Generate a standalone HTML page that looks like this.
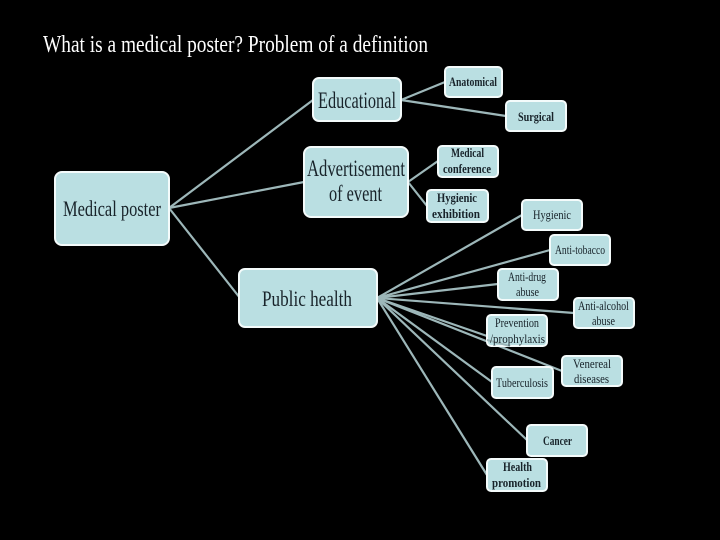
<!DOCTYPE html>
<html><head><meta charset="utf-8"><style>
html,body{margin:0;padding:0;background:#000;}
svg{display:block;}
text{font-family:"Liberation Serif",serif;fill:#18232a;}
.t{fill:#fff;}
.b{font-weight:bold;}
</style></head><body>
<svg width="720" height="540" viewBox="0 0 720 540" xmlns="http://www.w3.org/2000/svg">
<rect width="720" height="540" fill="#000"/>
<text class="t" x="43" y="52" font-size="24" textLength="385" lengthAdjust="spacingAndGlyphs">What is a medical poster? Problem of a definition</text>
<g stroke="#9db7b9" stroke-width="2.2" fill="none">
<line x1="169" y1="208" x2="313" y2="100"/>
<line x1="169" y1="208" x2="304" y2="182"/>
<line x1="169" y1="208" x2="240" y2="298"/>
<line x1="401" y1="100" x2="445" y2="82"/>
<line x1="401" y1="100" x2="506" y2="116"/>
<line x1="408" y1="182" x2="438" y2="161"/>
<line x1="408" y1="182" x2="427" y2="206"/>
<line x1="377" y1="298" x2="522" y2="215"/>
<line x1="377" y1="298" x2="550" y2="250"/>
<line x1="377" y1="298" x2="498" y2="284"/>
<line x1="377" y1="298" x2="574" y2="313"/>
<line x1="377" y1="298" x2="487" y2="336"/>
<line x1="377" y1="298" x2="562" y2="371"/>
<line x1="377" y1="298" x2="492" y2="382"/>
<line x1="377" y1="298" x2="527" y2="440"/>
<line x1="377" y1="298" x2="487" y2="475"/>
</g>
<g fill="#badfe2" stroke="#f4fbfb" stroke-width="2">
<rect x="55" y="172" width="114" height="73" rx="7"/>
<rect x="313" y="78" width="88" height="43" rx="6"/>
<rect x="304" y="147" width="104" height="70" rx="7"/>
<rect x="239" y="269" width="138" height="58" rx="6"/>
<rect x="445" y="67" width="57" height="30" rx="4"/>
<rect x="506" y="101" width="60" height="30" rx="4"/>
<rect x="438" y="146" width="60" height="31" rx="4"/>
<rect x="427" y="190" width="61" height="32" rx="4"/>
<rect x="522" y="200" width="60" height="30" rx="4"/>
<rect x="550" y="235" width="60" height="30" rx="4"/>
<rect x="498" y="269" width="60" height="31" rx="4"/>
<rect x="574" y="298" width="60" height="30" rx="4"/>
<rect x="487" y="315" width="60" height="31" rx="4"/>
<rect x="562" y="356" width="60" height="30" rx="4"/>
<rect x="492" y="367" width="61" height="31" rx="4"/>
<rect x="527" y="425" width="60" height="31" rx="4"/>
<rect x="487" y="459" width="60" height="32" rx="4"/>
</g>
<line x1="487" y1="340" x2="510" y2="346" stroke="#9db7b9" stroke-width="2"/>
<text x="63" y="216" font-size="22" textLength="98" lengthAdjust="spacingAndGlyphs">Medical poster</text>
<text x="318" y="108" font-size="23" textLength="78" lengthAdjust="spacingAndGlyphs">Educational</text>
<text x="307" y="176" font-size="23" textLength="98" lengthAdjust="spacingAndGlyphs">Advertisement</text>
<text x="329" y="201" font-size="23" textLength="53" lengthAdjust="spacingAndGlyphs">of event</text>
<text x="262" y="306" font-size="22" textLength="90" lengthAdjust="spacingAndGlyphs">Public health</text>
<g font-size="13" class="b">
<text class="b" x="449" y="86" textLength="48" lengthAdjust="spacingAndGlyphs">Anatomical</text>
<text class="b" x="518" y="121" textLength="36" lengthAdjust="spacingAndGlyphs">Surgical</text>
<text class="b" x="451" y="157" textLength="33" lengthAdjust="spacingAndGlyphs">Medical</text>
<text class="b" x="443" y="173" textLength="48" lengthAdjust="spacingAndGlyphs">conference</text>
<text class="b" x="437" y="202" textLength="40" lengthAdjust="spacingAndGlyphs">Hygienic</text>
<text class="b" x="432" y="218" textLength="48" lengthAdjust="spacingAndGlyphs">exhibition</text>
<text class="b" x="543" y="445" textLength="29" lengthAdjust="spacingAndGlyphs">Cancer</text>
<text class="b" x="503" y="471" textLength="29" lengthAdjust="spacingAndGlyphs">Health</text>
<text class="b" x="492" y="487" textLength="49" lengthAdjust="spacingAndGlyphs">promotion</text>
</g>
<g font-size="13">
<text x="533" y="219" textLength="38" lengthAdjust="spacingAndGlyphs">Hygienic</text>
<text x="555" y="254" textLength="50" lengthAdjust="spacingAndGlyphs">Anti-tobacco</text>
<text x="508" y="281" textLength="38" lengthAdjust="spacingAndGlyphs">Anti-drug</text>
<text x="516" y="296" textLength="23" lengthAdjust="spacingAndGlyphs">abuse</text>
<text x="578" y="310" textLength="51" lengthAdjust="spacingAndGlyphs">Anti-alcohol</text>
<text x="592" y="325" textLength="23" lengthAdjust="spacingAndGlyphs">abuse</text>
<text x="495" y="327" textLength="44" lengthAdjust="spacingAndGlyphs">Prevention</text>
<text x="490" y="343" textLength="55" lengthAdjust="spacingAndGlyphs">/prophylaxis</text>
<text x="573" y="368" textLength="38" lengthAdjust="spacingAndGlyphs">Venereal</text>
<text x="574" y="383" textLength="35" lengthAdjust="spacingAndGlyphs">diseases</text>
<text x="496" y="387" textLength="52" lengthAdjust="spacingAndGlyphs">Tuberculosis</text>
</g>
</svg>
</body></html>
